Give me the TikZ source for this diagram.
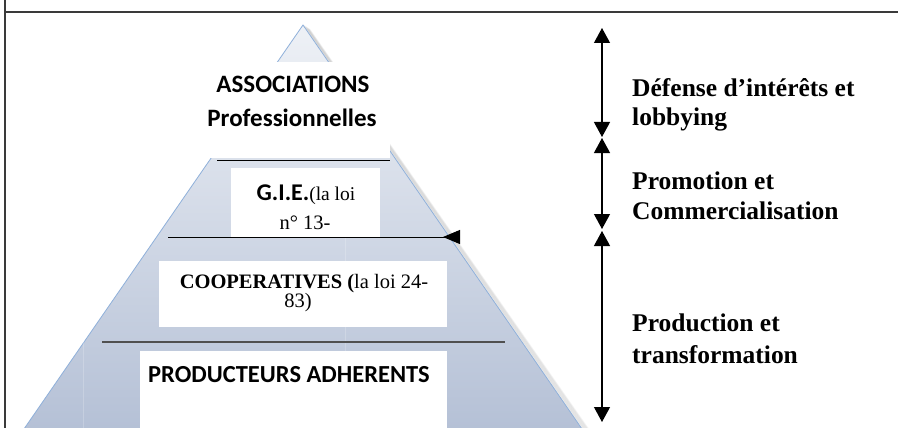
\documentclass[tikz,border=0pt]{standalone}
\usepackage{fontspec}
\setmainfont{Liberation Serif}
\newfontfamily\calib{Carlito}
\usetikzlibrary{arrows.meta,calc}
\definecolor{pyredge}{HTML}{8FB0DA}
\definecolor{pyrtop}{HTML}{EEF1F6}
\definecolor{pyrbot}{HTML}{B3BFD5}
\definecolor{framecol}{HTML}{3A3A3A}
\definecolor{rulecol}{HTML}{505050}
\begin{document}
\begin{tikzpicture}[x=1pt,y=-1pt,
  wbox/.style={fill=white, draw=none, inner sep=0pt, outer sep=0pt, anchor=north west},
  sanslbl/.style={font=\calib\bfseries\fontsize{25}{29}\selectfont, inner sep=0pt, anchor=base},
  seriflbl/.style={font=\fontsize{20.5}{23}\selectfont, inner sep=0pt, anchor=base},
  sidelbl/.style={font=\bfseries\fontsize{25.5}{29}\selectfont, inner sep=0pt, anchor=base west},
  spanarrow/.style={line width=1.2pt, {Triangle[length=15pt,width=16pt]}-{Triangle[length=15pt,width=16pt]}},
]
\useasboundingbox (0,0) rectangle (898,428);
\fill[white] (0,0) rectangle (898,428);

% pyramid
\coordinate (apex) at (303,25);
\coordinate (bl) at (15,442);
\coordinate (br) at (591,442);
\foreach \i in {1,...,7}{
  \draw[black, opacity=0.045, line width=1.6pt] ($(apex)+(0.9*\i,0.6*\i)$) -- ($(br)+(0.9*\i,0)$);
}
\path[top color=pyrtop, bottom color=pyrbot, draw=pyredge, line width=0.8pt] (apex) -- (bl) -- (br) -- cycle;
\coordinate (v1t) at (83,340); \coordinate (v1b) at (83,428);
\coordinate (v2t) at (345,237); \coordinate (v2b) at (345,351);
\draw[white, opacity=0.2, line width=0.6pt] (v1t) -- (v1b);
\draw[white, opacity=0.2, line width=0.6pt] (v2t) -- (v2b);

% white boxes
\node[wbox, minimum width=190pt, minimum height=96pt] (boxA) at (200,62) {};
\node[wbox, minimum width=149pt, minimum height=69pt] (boxG) at (231,168) {};
\node[wbox, minimum width=288pt, minimum height=66pt] (boxC) at (159,261) {};
\node[wbox, minimum width=307pt, minimum height=89pt] (boxP) at (140,351) {};

% separating rules
\coordinate (la1) at (217,160); \coordinate (la2) at (390,160);
\draw[line width=0.9pt] (la1) -- (la2);
\coordinate (lg1) at (168,237); \coordinate (lg2) at (460,237);
\draw[line width=1pt, -{Triangle[reversed,length=17pt,width=14pt]}] (lg1) -- (lg2);
\coordinate (lc1) at (102,342); \coordinate (lc2) at (505,342);
\draw[rulecol, line width=1.8pt] (lc1) -- (lc2);

% texts in pyramid
\node[sanslbl] (tA1) at (293,93) {ASSOCIATIONS};
\node[sanslbl] (tA2) at (292,126) {Professionnelles};
\node[inner sep=0pt, anchor=base] (tG1) at (306,200) {{\calib\bfseries\fontsize{24}{28}\selectfont G.I.E.}{\fontsize{19.5}{22}\selectfont(la loi}};
\node[seriflbl] (tG2) at (305,229) {n° 13-};
\node[seriflbl] (tC1) at (304,288) {\textbf{COOPERATIVES (}la loi 24-};
\node[seriflbl] (tC2) at (298,307) {83)};
\node[sanslbl, font=\calib\bfseries\fontsize{24.5}{28}\selectfont] (tP) at (289,382) {PRODUCTEURS ADHERENTS};

% frame
\coordinate (ft1) at (4,12); \coordinate (ft2) at (898,12);
\coordinate (fl1) at (5,0); \coordinate (fl2) at (5,428);
\draw[framecol, line width=2pt] (ft1) -- (ft2);
\draw[framecol, line width=1.3pt] (fl1) -- (fl2);

% right arrows
\coordinate (a1t) at (602,28); \coordinate (a1b) at (602,137);
\coordinate (a2t) at (602,138); \coordinate (a2b) at (602,229);
\coordinate (a3t) at (602,231); \coordinate (a3b) at (602,422);
\draw[spanarrow] (a1t) -- (a1b);
\draw[spanarrow] (a2t) -- (a2b);
\draw[spanarrow] (a3t) -- (a3b);

% right labels
\node[sidelbl] (d1) at (632,97) {Défense d’intérêts et};
\node[sidelbl] (d2) at (632,125) {lobbying};
\node[sidelbl] (p1) at (632,189) {Promotion et};
\node[sidelbl] (p2) at (632,219) {Commercialisation};
\node[sidelbl] (r1) at (632,331) {Production et};
\node[sidelbl] (r2) at (632,363) {transformation};
\end{tikzpicture}
\end{document}
